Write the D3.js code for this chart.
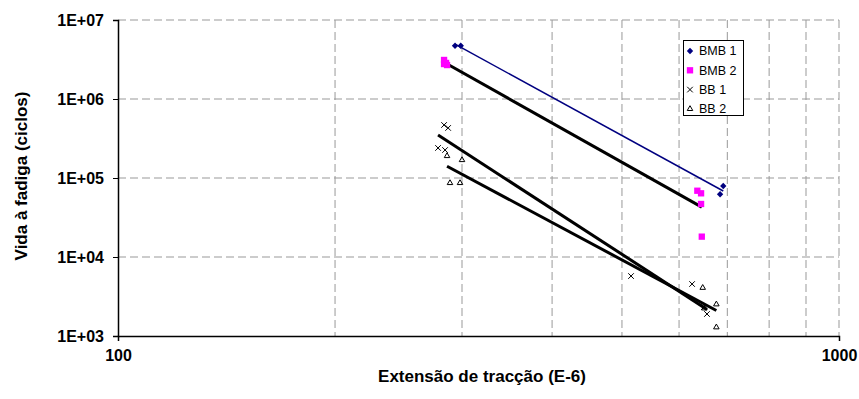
<!DOCTYPE html>
<html lang="pt">
  <head>
    <meta charset="utf-8">
    <title>Vida à fadiga</title>
    <script src="https://cdnjs.cloudflare.com/ajax/libs/d3/7.8.5/d3.min.js"></script>
    <style type="text/css">
      body { margin: 0; background: #fff; }
      text { font-family: Arial, "Liberation Sans", sans-serif; }
    </style>
  </head>
  <body>
    <script type="text/javascript">

    // series (extension E-6, cycles)
    var bmb1X = [293.4, 298.8, 691, 684];
    var bmb1Y = [4730000, 4730000, 79200, 62200];

    var bmb2X = [283.3, 283.3, 286, 285.1, 636.1, 643.7, 643.7, 645.2];
    var bmb2Y = [3120000, 2770000, 2690000, 2860000, 69000, 64000, 46900, 18100];

    var bb1X = [283.3, 287, 277.9, 284.2, 514.7, 625.5, 649.9, 656];
    var bb1Y = [469000, 430000, 240000, 226000, 5740, 4550, 2330, 1900];

    var bb2X = [286, 300, 288.7, 298.1, 647.1, 675.9, 650.5, 675.9];
    var bb2Y = [190000, 169000, 86500, 86500, 4080, 2520, 2240, 1290];

    var seriesNames = ["BMB 1", "BMB 2", "BB 1", "BB 2"];
    var yTicks = [1e3, 1e4, 1e5, 1e6, 1e7];
    var yTickLabels = ["1E+03", "1E+04", "1E+05", "1E+06", "1E+07"];
    var xTicks = [100, 1000];
    var xGrid = [200, 300, 400, 500, 600, 700, 800, 900, 1000];

    var w = 859;
    var h = 399;
    var pLeft = 118, pRight = 839, pTop = 20, pBottom = 336;

    var x = d3.scaleLog().domain([100, 1000]).range([pLeft, pRight]);
    var y = d3.scaleLog().domain([1e3, 1e7]).range([pBottom, pTop]);

    var svg = d3.select("body")
                .append("svg")
                .attr("width", w)
                .attr("height", h);

    // gridlines
    svg.selectAll("line.vgrid")
       .data(xGrid)
       .enter()
       .append("line")
       .attr("x1", function(d) { return x(d); })
       .attr("x2", function(d) { return x(d); })
       .attr("y1", pTop)
       .attr("y2", pBottom)
       .attr("stroke", "#999")
       .attr("stroke-dasharray", "8,4");

    svg.selectAll("line.hgrid")
       .data(yTicks.slice(1))
       .enter()
       .append("line")
       .attr("x1", pLeft)
       .attr("x2", pRight)
       .attr("y1", function(d) { return y(d); })
       .attr("y2", function(d) { return y(d); })
       .attr("stroke", "#999")
       .attr("stroke-dasharray", "8,4");

    // axes
    var yAxis = d3.axisLeft(y)
                  .tickValues(yTicks)
                  .tickFormat(function(d, i) { return yTickLabels[i]; })
                  .tickSize(5)
                  .tickPadding(9);
    var gy = svg.append("g").attr("transform", "translate(" + pLeft + ",0)").call(yAxis);

    var xAxis = d3.axisBottom(x)
                  .tickValues(xTicks)
                  .tickFormat(d3.format("d"))
                  .tickSize(5)
                  .tickPadding(9);
    var gx = svg.append("g").attr("transform", "translate(0," + pBottom + ")").call(xAxis);

    [gx, gy].forEach(function(g) {
      g.select(".domain").attr("stroke", "#000").attr("stroke-width", 1.5);
      g.selectAll(".tick line").attr("stroke", "#000");
      g.selectAll(".tick text")
       .attr("font-family", "Arial, 'Liberation Sans', sans-serif")
       .attr("font-size", "16px")
       .attr("font-weight", "bold")
       .attr("fill", "#000");
    });

    // axis titles
    svg.append("text")
       .attr("x", 482)
       .attr("y", 382)
       .attr("text-anchor", "middle")
       .attr("font-size", "17px")
       .attr("font-weight", "bold")
       .text("Extensão de tracção (E-6)");

    svg.append("text")
       .attr("transform", "translate(27,176) rotate(-90)")
       .attr("text-anchor", "middle")
       .attr("font-size", "17px")
       .attr("font-weight", "bold")
       .text("Vida à fadiga (ciclos)");

    // power trendline: least squares in log-log space, over data range
    function trend(xs, ys) {
      var lx = xs.map(Math.log10), ly = ys.map(Math.log10);
      var mx = d3.mean(lx), my = d3.mean(ly);
      var sxy = d3.sum(lx, function(v, i) { return (v - mx) * (ly[i] - my); });
      var sxx = d3.sum(lx, function(v) { return (v - mx) * (v - mx); });
      var b = sxy / sxx, a = my - b * mx;
      var x0 = d3.min(xs), x1 = d3.max(xs);
      return [[x0, Math.pow(10, a + b * Math.log10(x0))],
              [x1, Math.pow(10, a + b * Math.log10(x1))]];
    }

    var lines = [
      { xs: bmb2X, ys: bmb2Y, color: "#000", width: 3 },
      { xs: bb1X, ys: bb1Y, color: "#000", width: 3 },
      { xs: bb2X, ys: bb2Y, color: "#000", width: 3 },
      { xs: bmb1X, ys: bmb1Y, color: "#000080", width: 1.5 }
    ];

    lines.forEach(function(l) {
      var t = trend(l.xs, l.ys);
      svg.append("line")
         .attr("x1", x(t[0][0]))
         .attr("y1", y(t[0][1]))
         .attr("x2", x(t[1][0]))
         .attr("y2", y(t[1][1]))
         .attr("stroke", l.color)
         .attr("stroke-width", l.width);
    });

    // markers
    var diamond = d3.symbol().type(d3.symbolDiamond2).size(26);
    var square = d3.symbol().type(d3.symbolSquare).size(40);
    var triangle = d3.symbol().type(d3.symbolTriangle2).size(22);
    var cross = d3.symbol().type(d3.symbolX).size(22);

    function drawPoints(xs, ys, sym, fill, stroke) {
      svg.append("g")
         .selectAll("path")
         .data(xs)
         .enter()
         .append("path")
         .attr("transform", function(d, i) { return "translate(" + x(d) + "," + y(ys[i]) + ")"; })
         .attr("d", sym)
         .attr("fill", fill)
         .attr("stroke", stroke)
         .attr("stroke-width", 1);
    }

    drawPoints(bmb2X, bmb2Y, square, "#ff00ff", "none");
    drawPoints(bb1X, bb1Y, cross, "none", "#000");
    drawPoints(bb2X, bb2Y, triangle, "none", "#000");
    drawPoints(bmb1X, bmb1Y, diamond, "#000080", "none");

    // legend
    var lg = svg.append("g");
    lg.append("rect")
      .attr("x", 683.5)
      .attr("y", 40.5)
      .attr("width", 60)
      .attr("height", 75)
      .attr("fill", "#fff")
      .attr("stroke", "#000");

    var legendSyms = [
      { sym: diamond, fill: "#000080", stroke: "none" },
      { sym: square, fill: "#ff00ff", stroke: "none" },
      { sym: cross, fill: "none", stroke: "#000" },
      { sym: triangle, fill: "none", stroke: "#000" }
    ];

    seriesNames.forEach(function(name, i) {
      var yy = 51 + i * 19.3;
      lg.append("path")
        .attr("transform", "translate(690," + yy + ")")
        .attr("d", legendSyms[i].sym)
        .attr("fill", legendSyms[i].fill)
        .attr("stroke", legendSyms[i].stroke);
      lg.append("text")
        .attr("x", 699)
        .attr("y", yy)
        .attr("dy", "0.35em")
        .attr("font-size", "12.5px")
        .text(name);
    });

    </script>
  </body>
</html>
